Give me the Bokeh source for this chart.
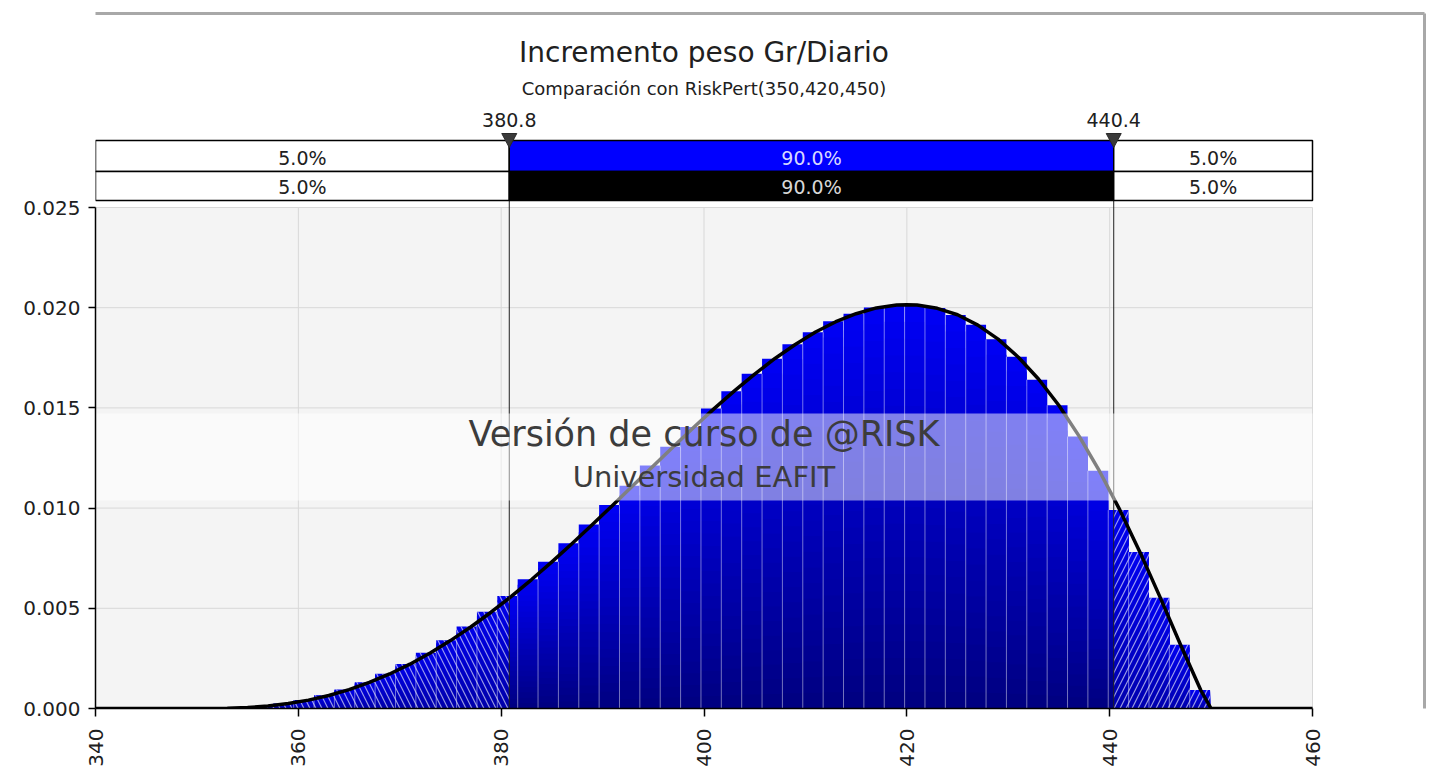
import math
import numpy as np
from bokeh.plotting import figure
from bokeh.models import FixedTicker, NumeralTickFormatter, Range1d
from bokeh.core.properties import value
from bokeh.embed import file_html
from bokeh.resources import INLINE

# ---------------- data ----------------
title_text = "Incremento peso Gr/Diario"
subtitle_text = "Comparación con RiskPert(350,420,450)"
watermark_line1 = "Versión de curso de @RISK"
watermark_line2 = "Universidad EAFIT"

hist_range = (349.5, 449.9)          # first / last bin edge (50 equal bins)
hist_density = [
    0.00000, 0.00001, 0.00005, 0.00013, 0.00025, 0.00043, 0.00066, 0.00095, 0.00131, 0.00174,
    0.00222, 0.00278, 0.00340, 0.00409, 0.00483, 0.00562, 0.00645, 0.00732, 0.00824, 0.00918,
    0.01016, 0.01111, 0.01212, 0.01306, 0.01405, 0.01497, 0.01583, 0.01670, 0.01745, 0.01818,
    0.01877, 0.01932, 0.01970, 0.02001, 0.02014, 0.02012, 0.01998, 0.01963, 0.01915, 0.01842,
    0.01755, 0.01641, 0.01513, 0.01357, 0.01186, 0.00990, 0.00781, 0.00553, 0.00318, 0.00092,
]

curve_x = [340, 350,
           351, 353, 355, 357, 359, 361, 363, 365, 367, 369,
           371, 373, 375, 377, 379, 381, 383, 385, 387, 389,
           391, 393, 395, 397, 399, 401, 403, 405, 407, 409,
           411, 413, 415, 417, 419, 420, 421, 423, 425, 427, 429,
           431, 433, 435, 437, 439, 441, 443, 445, 447, 449,
           450, 460]
curve_density = [0.0, 0.0,
                 0.0000006, 0.0000122, 0.0000496, 0.000124, 0.000245, 0.000418, 0.000649, 0.000941, 0.001299, 0.001723,
                 0.002212, 0.002767, 0.003388, 0.004067, 0.004804, 0.005594, 0.006435, 0.007316, 0.008233, 0.009180,
                 0.010145, 0.011125, 0.012104, 0.013076, 0.014037, 0.014965, 0.015851, 0.016690, 0.017466, 0.018164,
                 0.018786, 0.019300, 0.019700, 0.019990, 0.020140, 0.020153, 0.020130, 0.019970, 0.019650, 0.019130, 0.018430,
                 0.017530, 0.016430, 0.015120, 0.013580, 0.011840, 0.009910, 0.007790, 0.005520, 0.003170, 0.000898,
                 0.0, 0.0]

delimiters = [380.8, 440.4]
delimiter_labels = ["380.8", "440.4"]
row_fit_pct = ["5.0%", "90.0%", "5.0%"]
row_pert_pct = ["5.0%", "90.0%", "5.0%"]

x_limits = (340, 460)
y_limits = (0.0, 0.025)
x_ticks = [340, 360, 380, 400, 420, 440, 460]
y_ticks = [0.000, 0.005, 0.010, 0.015, 0.020, 0.025]

# ---------------- layout / style constants (page px) ----------------
FONT = "DejaVu Sans"
W, H = 1439, 772
PLOT_L, PLOT_R, PLOT_T, PLOT_B = 95, 1312, 207, 708
TITLE_Y = 52
SUBTITLE_Y = 88
DELIM_LABEL_Y = 119
TRI_TOP, TRI_TIP, TRI_HALF_PX = 133, 147, 7.5
ROW1_TOP, ROW_MID, ROW2_BOT = 140, 171, 200
ROW1_TEXT, ROW2_TEXT = 157.5, 186
BAND_TOP, BAND_BOT = 413, 500
WM1_Y, WM2_Y = 433, 476

px_per_x = (PLOT_R - PLOT_L) / (x_limits[1] - x_limits[0])
px_per_y = (PLOT_B - PLOT_T) / (y_limits[1] - y_limits[0])
x_end = x_limits[0] + (W - PLOT_L) / px_per_x
y_end = y_limits[0] + PLOT_B / px_per_y
tri_half = TRI_HALF_PX / px_per_x

p = figure(width=W, height=H, x_range=Range1d(x_limits[0], x_end), y_range=Range1d(y_limits[0], y_end),
           output_backend="svg", toolbar_location=None, title=None,
           min_border_left=PLOT_L, min_border_right=0, min_border_top=0, min_border_bottom=H - PLOT_B)
p.extra_x_ranges = {"px": Range1d(PLOT_L, W)}
p.extra_y_ranges = {"px": Range1d(PLOT_B, 0)}
p.background_fill_color = "white"
p.border_fill_color = "white"
p.outline_line_color = None
p.grid.visible = False

# axes
p.xaxis.ticker = FixedTicker(ticks=x_ticks)
p.yaxis.ticker = FixedTicker(ticks=y_ticks)
p.xaxis.bounds = x_limits
p.yaxis.bounds = y_limits
p.yaxis.formatter = NumeralTickFormatter(format="0.000")
p.xaxis.major_label_orientation = math.pi / 2
for ax in (p.xaxis, p.yaxis):
    ax.axis_line_color = "black"
    ax.axis_line_width = 1.5
    ax.major_tick_line_color = "black"
    ax.major_tick_line_width = 1.5
    ax.major_tick_in = 0
    ax.minor_tick_line_color = None
    ax.major_label_text_font = FONT
    ax.major_label_text_font_size = "20px"
    ax.major_label_text_color = "#202020"
p.xaxis.major_tick_out = 8
p.xaxis.major_label_standoff = 12
p.yaxis.major_tick_out = 7
p.yaxis.major_label_standoff = 8

# plot-area background and grid
p.quad(left=x_limits[0], right=x_limits[1], bottom=y_limits[0], top=y_limits[1],
       fill_color="#f4f4f4", line_color=None)
grid_col = "#d8d8d8"
p.segment(x0=x_ticks, y0=y_limits[0], x1=x_ticks, y1=y_limits[1], line_color=grid_col, line_width=1)
p.segment(x0=x_limits[0], y0=y_ticks, x1=x_limits[1], y1=y_ticks, line_color=grid_col, line_width=1)

# ---------------- histogram bars ----------------
edges = np.linspace(hist_range[0], hist_range[1], len(hist_density) + 1)
cuts = [x_limits[0]] + delimiters + [x_limits[1]]
segs = []
for i, h in enumerate(hist_density):
    if h <= 0:
        continue
    for z in range(3):
        l = max(edges[i], cuts[z])
        r = min(edges[i + 1], cuts[z + 1])
        if r > l:
            segs.append((l, r, h, z))

bottom_col = {0: (0, 0, 170), 1: (0, 0, 128), 2: (0, 0, 175)}
top_col = {0: (0, 0, 235), 1: (0, 0, 245), 2: (0, 0, 240)}


def shade(c0, c1, f):
    return "#%02x%02x%02x" % tuple(int(round(a + (b - a) * f)) for a, b in zip(c0, c1))


N = 24
L, R, T, C = [], [], [], []
for k in range(N - 1, -1, -1):
    f = (k + 0.5) / N
    for (l, r, h, z) in segs:
        L.append(l); R.append(r); T.append(h * (k + 1) / N)
        C.append(shade(bottom_col[z], top_col[z], f))
p.quad(left=L, right=R, bottom=0, top=T, fill_color=C, line_color=None)

# hatching on the tails
for z, pat in ((0, "left_diagonal_line"), (2, "right_diagonal_line")):
    zs = [s for s in segs if s[3] == z]
    p.quad(left=[s[0] for s in zs], right=[s[1] for s in zs], bottom=0, top=[s[2] for s in zs],
           fill_alpha=0, line_color=None, hatch_pattern=pat, hatch_color="white",
           hatch_alpha=0.6, hatch_scale=12, hatch_weight=1.2)

# light separators between bars
sep_x = list(edges[1:-1])
sep_top = [min(hist_density[i], hist_density[i + 1]) for i in range(len(hist_density) - 1)]
p.segment(x0=sep_x, y0=0, x1=sep_x, y1=sep_top, line_color="white", line_alpha=0.45, line_width=1)

# PERT curve
p.line(curve_x, curve_density, line_color="black", line_width=3.5, line_join="round")

# delimiter lines (from top of percentage bars down to the x axis)
p.segment(x0=delimiters, y0=ROW1_TOP, x1=delimiters, y1=PLOT_B, y_range_name="px",
          line_color="#202020", line_width=1)

# ---------------- watermark ----------------
p.quad(left=x_limits[0], right=x_limits[1], top=BAND_TOP, bottom=BAND_BOT, y_range_name="px",
       fill_color="white", fill_alpha=0.5, line_color=None)
p.text(x=[400, 400], y=[WM1_Y, WM2_Y], text=[watermark_line1, watermark_line2], y_range_name="px",
       text_align="center", text_baseline="alphabetic", text_font=value(FONT),
       text_font_size=["35px", "29px"], text_color="#3c3c3c")

# ---------------- percentage bars ----------------
row_fill = [["white", "#0000ff", "white"], ["white", "#000000", "white"]]
row_text_col = [["#202020", "#d8d8ff", "#202020"], ["#202020", "#d8d8d8", "#202020"]]
rows = [(ROW1_TOP, ROW_MID, ROW1_TEXT, row_fit_pct), (ROW_MID, ROW2_BOT, ROW2_TEXT, row_pert_pct)]
for ri, (top, bot, tb, pcts) in enumerate(rows):
    p.quad(left=cuts[:-1], right=cuts[1:], top=top, bottom=bot, y_range_name="px",
           fill_color=row_fill[ri], line_color="black", line_width=1.5)
    centers = [(cuts[z] + cuts[z + 1]) / 2 for z in range(3)]
    p.text(x=centers, y=tb, text=pcts, y_range_name="px", text_align="center", text_baseline="alphabetic",
           text_font=value(FONT), text_font_size=value("19px"), text_color=row_text_col[ri])

# delimiter markers and labels
p.patches(xs=[[d - tri_half, d + tri_half, d] for d in delimiters],
          ys=[[TRI_TOP, TRI_TOP, TRI_TIP] for _ in delimiters], y_range_name="px",
          fill_color="#3a3a3a", line_color="#2a2a2a", line_width=1)
p.text(x=delimiters, y=DELIM_LABEL_Y, text=delimiter_labels, y_range_name="px",
       text_align="center", text_baseline="alphabetic", text_font=value(FONT),
       text_font_size=value("19px"), text_color="#202020")

# ---------------- titles ----------------
p.text(x=[400, 400], y=[TITLE_Y, SUBTITLE_Y], text=[title_text, subtitle_text], y_range_name="px",
       text_align="center", text_baseline="alphabetic", text_font=value(FONT),
       text_font_size=["28px", "18px"], text_color="#202020")

# ---------------- outer window frame ----------------
p.segment(x0=[0, 1424], y0=[13, 13], x1=[1424, 1424], y1=[13, H], x_range_name="px", y_range_name="px",
          line_color="#a8a8a8", line_width=3)

open("out.html", "w").write(file_html(p, INLINE))
